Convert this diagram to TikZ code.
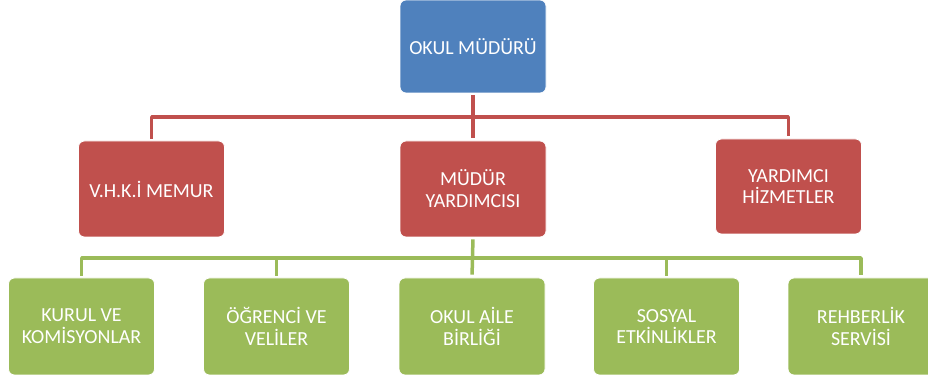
\documentclass[tikz,border=0pt]{standalone}
\usepackage{fontspec}
\setmainfont{Carlito}
\usepackage{tikz}
\usetikzlibrary{calc}
\definecolor{bossfill}{HTML}{4F81BD}
\definecolor{redfill}{HTML}{C0504D}
\definecolor{greenfill}{HTML}{9BBB59}
\begin{document}
\begin{tikzpicture}[line join=bevel,
  box/.style={rectangle,rounded corners=6bp,draw=white,line width=0.8bp,
    minimum width=146bp,minimum height=96bp,text=white,align=center,
    font=\fontsize{20}{22}\selectfont},
  bossbox/.style={box,fill=bossfill,minimum height=93bp},
  redbox/.style={box,fill=redfill},
  greenbox/.style={box,fill=greenfill,minimum height=97bp},
  redline/.style={draw=redfill,line width=3.5bp,shorten <=2bp,shorten >=3bp},
  greenline/.style={draw=greenfill,line width=3.5bp,shorten <=2bp,shorten >=3bp}]
  \useasboundingbox (0bp,0bp) rectangle (928bp,381bp);
%%
  % Node: okul
  \node[bossbox] (okul) at (473bp,334.5bp) {OKUL MÜDÜRÜ};
  % Node: vhki
  \node[redbox] (vhki) at (151.5bp,192bp) {V.H.K.İ MEMUR};
  % Node: mudyrd
  \node[redbox] (mudyrd) at (473bp,192bp) {MÜDÜR\\YARDIMCISI};
  % Node: yrdhiz
  \node[redbox,minimum height=95bp] (yrdhiz) at (788.5bp,194.5bp) {YARDIMCI\\HİZMETLER};
  % Node: kurul
  \node[greenbox] (kurul) at (81.5bp,54.5bp) {KURUL VE\\KOMİSYONLAR};
  % Node: ogrenci
  \node[greenbox] (ogrenci) at (276.5bp,54.5bp) {ÖĞRENCİ VE\\VELİLER};
  % Node: aile
  \node[greenbox] (aile) at (472bp,54.5bp) {OKUL AİLE\\BİRLİĞİ};
  % Node: sosyal
  \node[greenbox] (sosyal) at (666.5bp,54.5bp) {SOSYAL\\ETKİNLİKLER};
  % Node: rehber
  \node[greenbox] (rehber) at (861bp,54.5bp) {REHBERLİK\\SERVİSİ};
%%
  \coordinate (rbar) at (473bp,264bp);
  \coordinate (gbar) at (472bp,123bp);
  % Edge: okul -> mudyrd
  \draw[redline] (okul.south) -- (mudyrd.north);
  % Edge: okul -> vhki, yrdhiz
  \draw[redline] (vhki.north) |- (rbar) -| (yrdhiz.north);
  % Edge: mudyrd -> aile
  \draw[greenline] (mudyrd.south) -- (aile.north);
  % Edge: mudyrd -> kurul, rehber
  \draw[greenline] (kurul.north) |- (gbar) -| (rehber.north);
  % Edge: mudyrd -> ogrenci
  \draw[greenline,shorten >=0bp] (ogrenci.north) -- (ogrenci.north |- gbar);
  % Edge: mudyrd -> sosyal
  \draw[greenline,shorten >=0bp] (sosyal.north) -- (sosyal.north |- gbar);
%
\end{tikzpicture}
\end{document}
